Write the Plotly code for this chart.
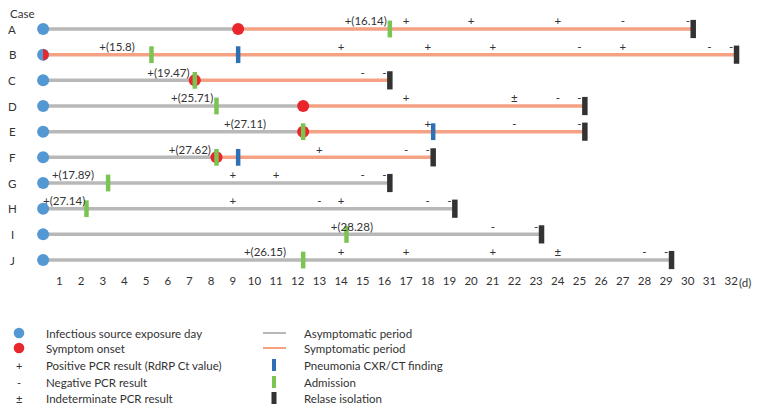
import plotly.graph_objects as go

# ---------------- data ----------------
cases = ["A", "B", "C", "D", "E", "F", "G", "H", "I", "J"]
exposure_day = [0, 0, 0, 0, 0, 0, 0, 0, 0, 0]
onset_day = [9, 0, 7, 12, 12, 8, None, None, None, None]
admission_day = [16, 5, 7, 8, 12, 8, 3, 2, 14, 12]
pneumonia_day = [None, 9, None, None, 18, 9, None, None, None, None]
release_day = [30, 32, 16, 25, 25, 18, 16, 19, 23, 29]
ct_values = [16.14, 15.8, 19.47, 25.71, 27.11, 27.62, 17.89, 27.14, 28.28, 26.15]
ct_label_day = [15.14, 3.66, 6.03, 7.13, 9.57, 7.02, 1.63, 1.22, 14.5, 10.49]
positive_days = {"A": [17, 20, 24], "B": [14, 18, 21, 27], "C": [], "D": [17], "E": [18],
                 "F": [13], "G": [9, 11], "H": [9, 14], "I": [], "J": [14, 17, 21]}
negative_days = {"A": [27, 30], "B": [25, 31, 32], "C": [15, 16], "D": [24, 25], "E": [22, 25],
                 "F": [17, 18], "G": [15, 16], "H": [13, 18, 19], "I": [21, 23], "J": [28, 29]}
indeterminate_days = {"D": [22], "J": [24]}
day_ticks = list(range(1, 33))

legend_left = ["Infectious source exposure day", "Symptom onset",
               "Positive PCR result (RdRP Ct value)", "Negative PCR result",
               "Indeterminate PCR result"]
legend_right = ["Asymptomatic period", "Symptomatic period", "Pneumonia CXR/CT finding",
                "Admission", "Relase isolation"]

# ---------------- style ----------------
# the page body adds an 8px margin on every side; keep the page from overflowing
W, H = 744, 397
PLOT_B = 133
FONT = "Lato"
TXT = "#333333"
C_BLUE = "#5498d3"
C_RED = "#e8262b"
C_GRAY = "#b8b8b8"
C_SALMON = "#f4a184"
C_GREEN = "#7cc451"
C_PNEU = "#2f6fb3"
C_BLACK = "#333333"
OFF = 0.25      # marker offset within a day
LIFT = 0.25     # sign lift above the line (rows)

fig = go.Figure()

# lines
for i, c in enumerate(cases):
    start = exposure_day[i] + OFF
    end = release_day[i] + OFF
    on = onset_day[i]
    if on is None:
        fig.add_trace(go.Scatter(x=[start, end], y=[i, i], mode="lines",
                                 line=dict(color=C_GRAY, width=3.5), hoverinfo="skip"))
    else:
        if on > exposure_day[i]:
            fig.add_trace(go.Scatter(x=[start, on + OFF], y=[i, i], mode="lines",
                                     line=dict(color=C_GRAY, width=3.5), hoverinfo="skip"))
        fig.add_trace(go.Scatter(x=[on + OFF, end], y=[i, i], mode="lines",
                                 line=dict(color=C_SALMON, width=3.5), hoverinfo="skip"))

# exposure circles
fig.add_trace(go.Scatter(x=[d + OFF for d in exposure_day], y=list(range(len(cases))),
                         mode="markers", marker=dict(size=12, color=C_BLUE, line=dict(width=0)),
                         hoverinfo="skip"))
# onset circles
ox, oy = [], []
shapes = []
for i, on in enumerate(onset_day):
    if on is None:
        continue
    if on == exposure_day[i]:
        r = 5.5
        k = 0.5523 * r
        shapes.append(dict(type="path", xref="x", yref="y", xsizemode="pixel", ysizemode="pixel",
                           xanchor=on + OFF, yanchor=i,
                           path=f"M0,{-r} C{k},{-r} {r},{-k} {r},0 C{r},{k} {k},{r} 0,{r} Z",
                           fillcolor=C_RED, line=dict(width=0), layer="above"))
    else:
        ox.append(on + OFF)
        oy.append(i)
fig.add_trace(go.Scatter(x=ox, y=oy, mode="markers",
                         marker=dict(size=12, color=C_RED, line=dict(width=0)), hoverinfo="skip"))


def bars(days, color, size, width):
    xs, ys = [], []
    for i, d in enumerate(days):
        if d is not None:
            xs.append(d + OFF)
            ys.append(i)
    fig.add_trace(go.Scatter(x=xs, y=ys, mode="markers",
                             marker=dict(symbol="line-ns", size=size, color=color,
                                         line=dict(color=color, width=width)),
                             hoverinfo="skip"))


bars(admission_day, C_GREEN, 12, 4.5)
bars(pneumonia_day, C_PNEU, 12, 4.5)
bars(release_day, C_BLACK, 13, 5.5)

# PCR signs
sx, sy, st = [], [], []
for i, c in enumerate(cases):
    for d in positive_days.get(c, []):
        sx.append(d); sy.append(i - LIFT); st.append("+")
    for d in negative_days.get(c, []):
        sx.append(d); sy.append(i - LIFT); st.append("-")
    for d in indeterminate_days.get(c, []):
        sx.append(d); sy.append(i - LIFT); st.append("±")
fig.add_trace(go.Scatter(x=sx, y=sy, text=st, mode="text", textposition="middle center",
                         textfont=dict(family=FONT, size=11.5, color=TXT), hoverinfo="skip"))

# Ct labels
fig.add_trace(go.Scatter(x=ct_label_day, y=[i - LIFT for i in range(len(cases))],
                         text=[f"+({v:g})" for v in ct_values], mode="text",
                         textposition="middle center",
                         textfont=dict(family=FONT, size=11.5, color=TXT), hoverinfo="skip"))


def py(p):
    return (H - PLOT_B - p) / (H - PLOT_B)


annotations = []
annotations.append(dict(text="Case", x=0, y=py(5.5), xref="paper", yref="paper", xanchor="left",
                        yanchor="middle", showarrow=False,
                        font=dict(family=FONT, size=11.5, color=TXT)))
for i, c in enumerate(cases):
    annotations.append(dict(text=c, x=4 / W, y=i, xref="paper", yref="y", xanchor="center",
                            yanchor="middle", showarrow=False,
                            font=dict(family=FONT, size=11.5, color=TXT)))

annotations.append(dict(text="(d)", x=1, y=py(274), xref="paper", yref="paper",
                        xanchor="right", yanchor="middle", showarrow=False, borderpad=0,
                        font=dict(family=FONT, size=11.5, color=TXT)))

leg_rows = [325, 340, 357, 374, 390]
for k, t in enumerate(legend_left):
    annotations.append(dict(text=t, x=36 / W, y=py(leg_rows[k]), xref="paper", yref="paper",
                            xanchor="left", yanchor="middle", showarrow=False,
                            font=dict(family=FONT, size=11.5, color=TXT)))
for k, t in enumerate(legend_right):
    annotations.append(dict(text=t, x=293.5 / W, y=py(leg_rows[k]), xref="paper", yref="paper",
                            xanchor="left", yanchor="middle", showarrow=False,
                            font=dict(family=FONT, size=11.5, color=TXT)))
for k, sym in zip([2, 3, 4], ["+", "-", "±"]):
    annotations.append(dict(text=sym, x=11 / W, y=py(leg_rows[k]), xref="paper", yref="paper",
                            xanchor="center", yanchor="middle", showarrow=False,
                            font=dict(family=FONT, size=11, color=TXT)))
for k, col in zip([0, 1], [C_BLUE, C_RED]):
    shapes.append(dict(type="circle", xref="paper", yref="paper", xsizemode="pixel",
                       ysizemode="pixel", xanchor=11 / W, yanchor=py(leg_rows[k]),
                       x0=-5.3, x1=5.3, y0=-5.3, y1=5.3, fillcolor=col, line=dict(width=0)))
for k, col in zip([0, 1], [C_GRAY, C_SALMON]):
    shapes.append(dict(type="line", xref="paper", yref="paper", x0=255 / W, x1=278 / W,
                       y0=py(leg_rows[k]), y1=py(leg_rows[k]), line=dict(color=col, width=2)))
for k, col, w in zip([2, 3, 4], [C_PNEU, C_GREEN, C_BLACK], [4, 4, 5]):
    shapes.append(dict(type="rect", xref="paper", yref="paper", xsizemode="pixel",
                       ysizemode="pixel", xanchor=266 / W, yanchor=py(leg_rows[k]),
                       x0=-w / 2, x1=w / 2, y0=-6, y1=6, fillcolor=col, line=dict(width=0)))

fig.update_layout(
    width=W, height=H, margin=dict(l=0, r=0, t=0, b=PLOT_B),
    paper_bgcolor="white", plot_bgcolor="white", showlegend=False,
    font=dict(family=FONT, color=TXT),
    xaxis=dict(range=[-1.371, 32.963], tickvals=day_ticks, ticktext=[str(d) for d in day_ticks],
               showgrid=False, zeroline=False, showline=False, ticks="",
               tickfont=dict(family=FONT, size=11.5, color=TXT), fixedrange=True),
    yaxis=dict(range=[9.466, -0.818], showticklabels=False, showgrid=False, zeroline=False,
               showline=False, fixedrange=True),
    shapes=shapes, annotations=annotations,
)

fig.write_html("out.html")
